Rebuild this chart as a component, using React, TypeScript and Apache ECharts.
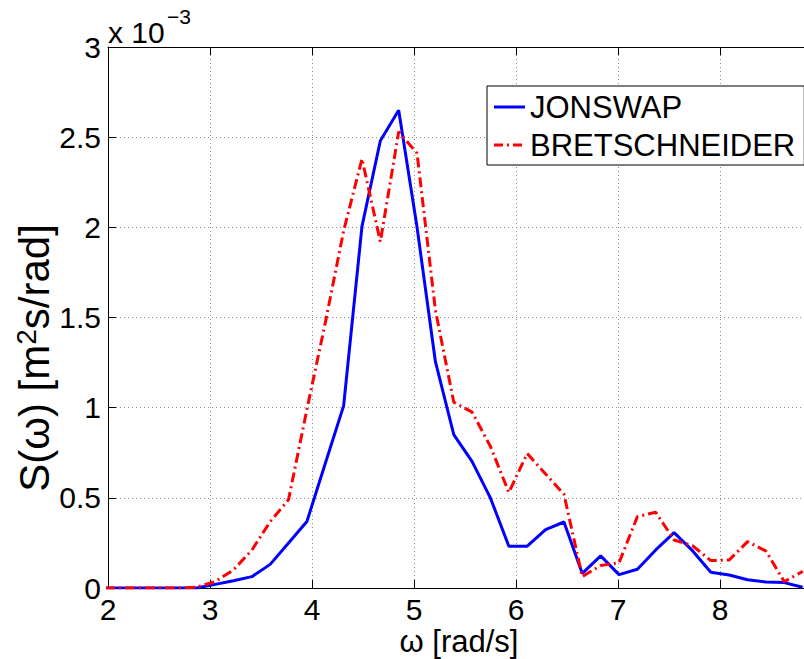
import { useEffect, useRef } from 'react';
import * as echarts from 'echarts';

// angular frequency samples [rad/s]
const omega = [
  1.97, 2.15, 2.33, 2.51, 2.69, 2.87, 3.05, 3.23, 3.41, 3.59, 3.77, 3.95, 4.13,
  4.31, 4.49, 4.67, 4.85, 5.03, 5.21, 5.39, 5.57, 5.75, 5.93, 6.11, 6.29, 6.47,
  6.65, 6.83, 7.01, 7.19, 7.37, 7.55, 7.73, 7.91, 8.09, 8.27, 8.45, 8.63, 8.81,
];
// spectra in units of 1e-3 m^2 s / rad
const jonswap = [
  0, 0, 0, 0, 0, 0, 0.02, 0.04, 0.063, 0.131, 0.25, 0.369, 0.69,
  1.01, 2.005, 2.48, 2.649, 2.0, 1.255, 0.85, 0.701, 0.498, 0.232, 0.232, 0.324, 0.366,
  0.081, 0.178, 0.074, 0.104, 0.211, 0.307, 0.207, 0.087, 0.072, 0.046, 0.033, 0.03, 0.004,
];
const bretschneider = [
  0, 0, 0, 0, 0, 0.005, 0.035, 0.1, 0.21, 0.368, 0.49, 0.99, 1.47,
  1.98, 2.38, 1.92, 2.53, 2.41, 1.54, 1.03, 0.975, 0.784, 0.53, 0.746, 0.632, 0.52,
  0.063, 0.125, 0.14, 0.396, 0.42, 0.266, 0.235, 0.152, 0.155, 0.257, 0.205, 0.035, 0.092,
];
const seriesNames = ['JONSWAP', 'BRETSCHNEIDER'];
const xLabel = 'ω [rad/s]';
const yLabelRich = '{a|S(ω) [m}{b|2}{a|s/rad]}';
const scaleBase = 'x 10';
const scaleExp = '−3';

const FONT = 'Liberation Sans, Arial, Helvetica, sans-serif';
const SOLID_ICON = 'path://M0,0h31v3h-31z';
const DASHDOT_ICON = 'path://M0,0h9v3h-9z M13,0h2v3h-2z M19,0h9v3h-9z M31,0h0.01v3h-0.01z';

export default function App() {
  const ref = useRef<HTMLDivElement>(null);
  useEffect(() => {
    if (!ref.current) return;
    const chart = echarts.init(ref.current, undefined, { renderer: 'svg' });
    const gridLine = { show: true, lineStyle: { color: '#8c8c8c', type: [1, 3] as any, width: 1 } };
    const axisLine = { show: true, onZero: false, lineStyle: { color: '#000', width: 1 } };
    const tick = { show: true, inside: true, length: 8, lineStyle: { color: '#000', width: 1 } };
    chart.setOption({
      animation: false,
      backgroundColor: '#fff',
      grid: { left: 108, top: 47, right: 0, bottom: 71, containLabel: false, outerBoundsMode: 'none' },
      xAxis: [
        {
          type: 'value', min: 2, max: 9, interval: 1, position: 'bottom',
          axisLine, axisTick: tick,
          axisLabel: { color: '#000', fontSize: 30, fontFamily: FONT, margin: 6, showMaxLabel: false },
          splitLine: gridLine,
        },
        {
          type: 'value', min: 2, max: 9, interval: 1, position: 'top',
          axisLine, axisTick: tick, axisLabel: { show: false }, splitLine: { show: false },
        },
      ],
      yAxis: {
        type: 'value', min: 0, max: 3, interval: 0.5,
        axisLine, axisTick: tick,
        axisLabel: { color: '#000', fontSize: 30, fontFamily: FONT, margin: 7 },
        splitLine: gridLine,
      },
      legend: {
        show: true, orient: 'vertical', left: 487, top: 86,
        padding: [4, 9, 3, 7], itemGap: 4, itemWidth: 31, itemHeight: 3,
        backgroundColor: '#fff', borderColor: '#000', borderWidth: 1,
        textStyle: { fontSize: 31, color: '#000', fontFamily: FONT, lineHeight: 34 },
        data: [
          { name: seriesNames[0], icon: SOLID_ICON },
          { name: seriesNames[1], icon: DASHDOT_ICON },
        ],
      },
      series: [
        {
          type: 'line', name: seriesNames[0], xAxisIndex: 0,
          data: omega.map((w, i) => [w, jonswap[i]]),
          symbol: 'none', showSymbol: false,
          lineStyle: { color: '#0000ff', width: 3 }, itemStyle: { color: '#0000ff' },
        },
        {
          type: 'line', name: seriesNames[1], xAxisIndex: 0,
          data: omega.map((w, i) => [w, bretschneider[i]]),
          symbol: 'none', showSymbol: false,
          lineStyle: { color: '#ff0000', width: 3, type: [10, 4, 2, 4] }, itemStyle: { color: '#ff0000' },
        },
      ],
      graphic: [
        {
          type: 'text', x: 108, y: 32,
          style: { text: scaleBase, fontSize: 30, fontFamily: FONT, fill: '#000', align: 'left', verticalAlign: 'middle' },
        },
        {
          type: 'text', x: 167, y: 16,
          style: { text: scaleExp, fontSize: 21, fontFamily: FONT, fill: '#000', align: 'left', verticalAlign: 'middle' },
        },
        {
          type: 'text', x: 459, y: 641,
          style: { text: xLabel, fontSize: 31, fontFamily: FONT, fill: '#000', align: 'center', verticalAlign: 'middle' },
        },
        {
          type: 'text', x: 34, y: 358, rotation: Math.PI / 2,
          style: {
            text: yLabelRich, align: 'center', verticalAlign: 'middle', fill: '#000',
            rich: {
              a: { fontSize: 42, fontFamily: FONT, fill: '#000', lineHeight: 44 },
              b: { fontSize: 28, fontFamily: FONT, fill: '#000', verticalAlign: 'top', lineHeight: 28 },
            },
          },
        },
      ],
    });
    return () => chart.dispose();
  }, []);
  return (
    <div style={{ position: 'absolute', left: 0, top: 0, width: 804, height: 659, overflow: 'hidden' }}>
      <div ref={ref} style={{ width: 822, height: 659 }} />
    </div>
  );
}
